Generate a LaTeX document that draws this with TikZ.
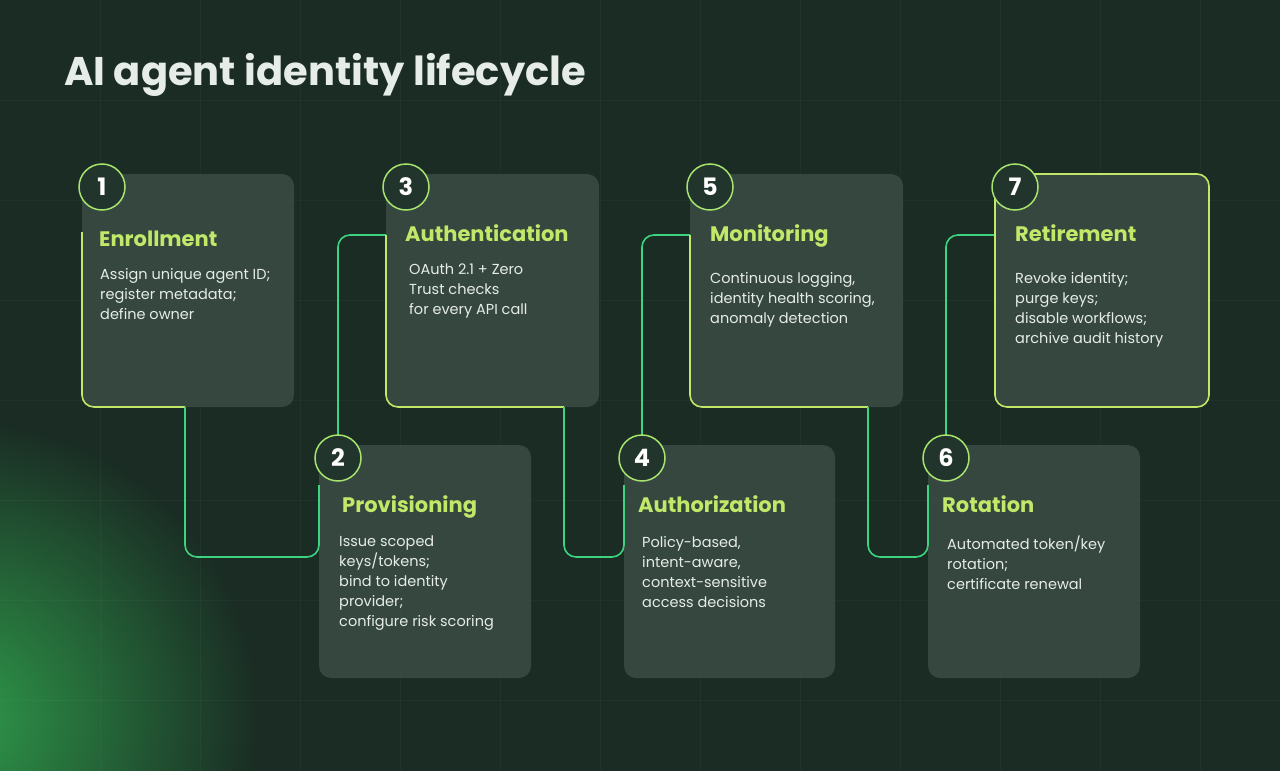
\documentclass[tikz,border=0pt]{standalone}
\usepackage{fontspec}
\setmainfont{Poppins}
\usetikzlibrary{calc}
\definecolor{bg}{HTML}{1A2C24}
\definecolor{boxf}{HTML}{3A4C44}
\definecolor{lime}{HTML}{C2E86A}
\definecolor{grn}{HTML}{3DD47F}
\definecolor{circf}{HTML}{22352C}
\definecolor{txt}{HTML}{E6ECE8}
\definecolor{glow}{HTML}{2E9A4A}
\tikzset{
 card/.style={fill=boxf,fill opacity=0.85,rounded corners=12pt,draw=none},
 num/.style={circle,minimum size=46pt,fill=circf,draw=lime!80!grn,line width=1.5pt,text=white,font=\bfseries\fontsize{24}{24}\selectfont},
 head/.style={anchor=north west,text=lime,font=\bfseries\fontsize{21}{24}\selectfont,inner sep=0},
 body/.style={anchor=north west,text=txt,font=\fontsize{14.5}{20}\selectfont,align=left,inner sep=0},
 edge/.style={draw=lime,line width=1.6pt,rounded corners=12pt},
 link/.style={draw=grn,line width=1.6pt,rounded corners=12pt},
}
\begin{document}
\begin{tikzpicture}[x=1pt,y=-1pt]
\useasboundingbox (0,0) rectangle (1280,771);
\begin{scope}
\clip (0,0) rectangle (1280,771);
\fill[bg] (0,0) rectangle (1280,771);
\shade[inner color=glow,outer color=bg] (-40,720) circle (300);
\foreach \x in {100,200,...,1200} \draw[white,opacity=0.03] (\x,0) -- (\x,771);
\foreach \y in {100,200,...,700} \draw[white,opacity=0.03] (0,\y) -- (1280,\y);
\end{scope}
\node[anchor=west,text=txt,font=\bfseries\fontsize{40}{44}\selectfont,inner sep=0] (title) at (64,75) {AI agent identity lifecycle};
% cards
\fill[card] (82,174) rectangle (294,407);
\fill[card] (386,174) rectangle (599,407);
\fill[card] (690,174) rectangle (903,407);
\fill[card] (995,174) rectangle (1209,407);
\fill[card] (319,445) rectangle (531,678);
\fill[card] (624,445) rectangle (835,678);
\fill[card] (928,445) rectangle (1140,678);
% edges
\coordinate (c1) at (82,232);
\draw[edge] (c1) -- (82,407) -- (185,407);
\draw[link] (185,407) -- (185,557) -- (319,557) -- (319,485);
\draw[link] (338,470) -- (338,235) -- (386,235);
\draw[edge] (386,235) -- (386,407) -- (564,407);
\draw[link] (564,407) -- (564,557) -- (624,557) -- (624,485);
\draw[link] (642,470) -- (642,235) -- (690,235);
\draw[edge] (690,235) -- (690,407) -- (868,407);
\draw[link] (868,407) -- (868,557) -- (928,557) -- (928,485);
\draw[link] (946,470) -- (946,235) -- (995,235);
\draw[edge] (995,174) rectangle (1209,407);
% numbers
\node[num] (n1) at (102,187) {1};
\node[num] (n3) at (406,187) {3};
\node[num] (n5) at (710,187) {5};
\node[num] (n7) at (1015,187) {7};
\node[num] (n2) at (338,458) {2};
\node[num] (n4) at (642,458) {4};
\node[num] (n6) at (946,458) {6};
% texts
\node[head] (h1) at (99,231) {Enrollment};
\node[body] (b1) at (100,268) {Assign unique agent ID;\\register metadata;\\define owner};
\node[head] (h3) at (405,224) {Authentication};
\node[body] (b3) at (409,264) {OAuth 2.1 + Zero\\Trust checks\\for every API call};
\node[head] (h5) at (710,224) {Monitoring};
\node[body] (b5) at (710,272) {Continuous logging,\\identity health scoring,\\anomaly detection};
\node[head] (h7) at (1015,224) {Retirement};
\node[body] (b7) at (1015,272) {Revoke identity;\\purge keys;\\disable workflows;\\archive audit history};
\node[head] (h2) at (342,495) {Provisioning};
\node[body] (b2) at (339,536) {Issue scoped\\keys/tokens;\\bind to identity\\provider;\\configure risk scoring};
\node[head] (h4) at (638,495) {Authorization};
\node[body] (b4) at (642,536) {Policy-based,\\intent-aware,\\context-sensitive\\access decisions};
\node[head] (h6) at (942,495) {Rotation};
\node[body] (b6) at (947,536) {Automated token/key\\rotation;\\certificate renewal};
\end{tikzpicture}
\end{document}
